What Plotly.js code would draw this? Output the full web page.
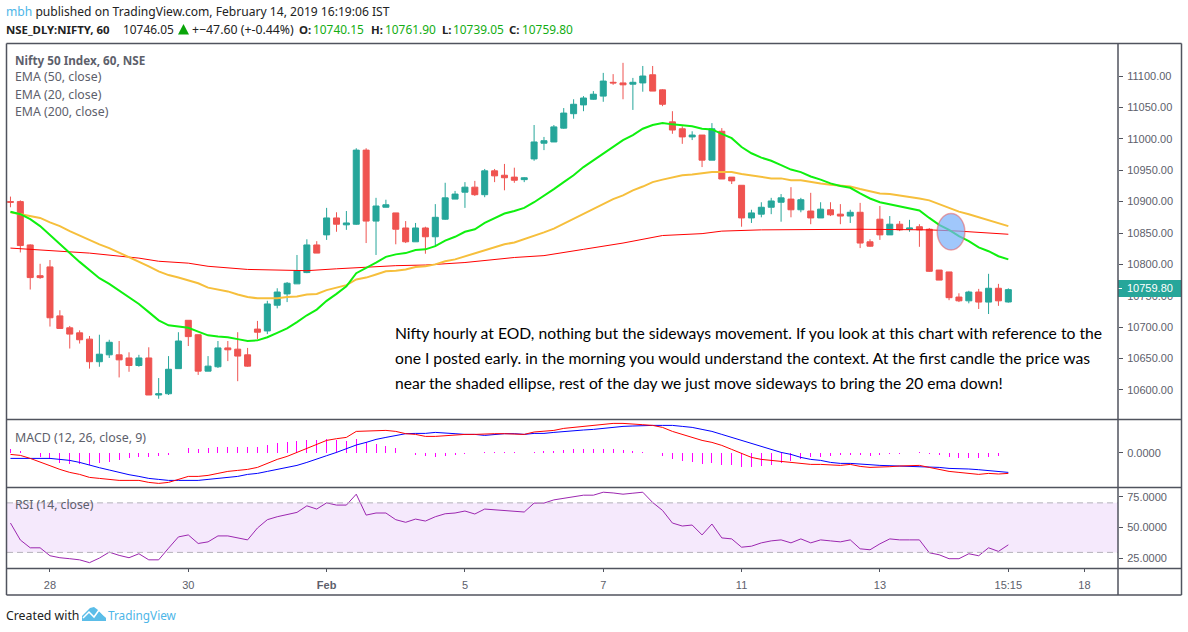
<!DOCTYPE html>
<html>
<head>
<meta charset="utf-8">
<script src="https://cdn.plot.ly/plotly-3.0.1.min.js"></script>
<style>html,body{margin:0;padding:0;background:#fff}</style>
</head>
<body>
<div id="chart" style="width:1188px;height:632px"></div>
<script>
// hourly candles
const candleOpen = [10900,10900,10831,10782,10796,10718,10699,10691,10681,10645,10656,10656,10651,10639,10651,10592,10594,10634,10711,10688,10630,10637,10667,10665,10656,10697,10694,10735,10753,10769,10787,10831,10847,10874,10863,10864,10982,10869,10891,10882,10858,10836,10858,10844,10872,10904,10915,10923,10911,10949,10942,10939,10935,10968,10993,10995,11017,11040,11054,11063,11068,11090,11089,11087,11089,11102,11078,11027,11016,11003,11006,10966,11012,10939,10926,10874,10880,10891,10899,10904,10887,10885,10874,10887,10880,10877,10883,10836,10872,10847,10864,10856,10860,10856,10791,10788,10748,10742,10756,10740,10762,10740.15];
const candleHigh = [10908,10902,10832,10801,10807,10727,10702,10695,10686,10688,10680,10678,10660,10656,10668,10619,10654,10692,10711,10688,10654,10678,10678,10692,10667,10710,10742,10762,10772,10815,10840,10837,10890,10883,10885,10985,10985,10906,10903,10882,10869,10866,10860,10896,10930,10917,10931,10933,10952,10952,10960,10954,10939,11022,11003,11022,11049,11063,11068,11076,11105,11103,11121,11097,11116,11116,11079,11044,11020,11012,11006,11025,11017,10939,10926,10887,10899,10906,10912,10923,10906,10914,10899,10899,10896,10887,10898,10840,10893,10877,10869,10871,10864,10858,10791,10788,10754,10758,10761,10785,10769,10761.9];
const candleLow = [10891,10819,10760,10777,10701,10698,10666,10674,10634,10637,10651,10620,10629,10637,10592,10586,10592,10634,10670,10624,10630,10635,10646,10614,10637,10681,10689,10730,10740,10769,10786,10818,10839,10852,10855,10863,10834,10815,10891,10832,10834,10836,10817,10829,10871,10904,10890,10909,10907,10931,10918,10930,10931,10965,10982,10995,11016,11032,11044,11062,11059,11086,11063,11046,11075,11076,11052,11008,10992,10998,10955,10966,10936,10928,10860,10866,10875,10880,10868,10875,10883,10864,10874,10877,10864,10866,10826,10828,10839,10847,10853,10852,10828,10788,10775,10743,10740,10738,10729,10721,10734,10739.05];
const candleClose = [10899,10830,10779,10779,10715,10698,10689,10680,10645,10657,10676,10648,10639,10651,10592,10594,10633,10678,10685,10630,10638,10667,10664,10654,10638,10692,10737,10756,10770,10790,10831,10818,10874,10864,10866,10982,10869,10893,10895,10856,10836,10858,10844,10875,10906,10912,10923,10911,10949,10941,10938,10934,10938,10995,10997,11019,11041,11055,11065,11071,11092,11089,11086,11090,11100,11076,11055,11014,11003,11006,10966,11016,10936,10933,10874,10882,10891,10901,10906,10887,10903,10874,10888,10879,10877,10883,10834,10829,10847,10864,10855,10858,10855,10789,10775,10747,10742,10756,10740,10762,10742,10759.8];

const ema20 = [10884,10880,10872,10861,10847,10832,10818,10804,10791,10778,10769,10758,10748,10737,10724,10711,10703,10701,10699,10693,10687,10685,10684,10681,10678,10679,10684,10691,10698,10708,10719,10728,10742,10753,10765,10786,10794,10803,10812,10816,10818,10823,10824,10829,10838,10844,10852,10856,10866,10874,10881,10885,10890,10899,10909,10920,10931,10942,10955,10966,10977,10988,10998,11006,11016,11022,11025,11023,11022,11020,11016,11015,11008,11001,10987,10977,10970,10965,10958,10951,10947,10940,10935,10929,10925,10922,10913,10905,10899,10896,10893,10890,10886,10874,10863,10855,10845,10837,10827,10821,10813,10808];
const ema50 = [10883,10880,10877,10874,10867,10861,10853,10846,10838,10832,10826,10819,10811,10805,10797,10789,10783,10779,10775,10770,10763,10760,10757,10752,10748,10746,10746,10746,10748,10749,10752,10753,10759,10763,10767,10776,10779,10784,10789,10790,10792,10796,10797,10800,10805,10808,10813,10818,10822,10827,10832,10835,10840,10845,10851,10857,10865,10872,10880,10888,10896,10904,10910,10918,10924,10931,10935,10939,10942,10943,10945,10947,10947,10947,10944,10942,10939,10937,10937,10934,10934,10931,10929,10927,10926,10924,10920,10916,10913,10912,10910,10908,10905,10902,10896,10891,10884,10880,10875,10870,10865,10861];
// the slow average barely bends, so only the bars where it was read
const ema200Bars = [0,4,8,13,15,18,20,24,26,30,33,36,39,42,46,51,54,58,62,66,70,72,76,86,93,96,101];
const ema200 = [10826,10822,10818,10810,10805,10802,10797,10792,10791,10790,10793,10796,10798,10799,10803,10811,10814,10824,10834,10846,10849,10853,10855,10856,10855,10853,10848];

const macdRed = [-1.7,-2.7,-5.7,-9,-13,-16.7,-19.7,-21.7,-24.7,-25.7,-26.7,-27.7,-27.7,-27.7,-29.7,-30.7,-29.7,-26.7,-23.7,-23.7,-22.7,-20.7,-18.7,-17.7,-16.7,-14.7,-10.7,-6.7,-3.7,0.3,5,8.3,12.3,14,15.3,21.3,21.7,22.3,22.3,21.3,19,18.3,16.3,16.3,17,17.7,18.3,18.3,19,19,19,19,18.3,20.7,21.3,22.3,24.3,25.3,26.3,27.3,28.3,29.3,29.3,28.3,28,27.3,25.3,21.3,18.3,15.3,12.3,10.3,7.3,3.3,-0.7,-4.7,-6.7,-7.7,-8.7,-9.7,-10.7,-11.7,-11.7,-12,-12.7,-11.7,-13.7,-14.7,-14.7,-14,-13.3,-12.7,-12.7,-14.7,-16.7,-18.7,-19.7,-20.7,-21.7,-20.7,-21.3,-20.7];
const macdBlue = [-5.7,-5.7,-5,-5,-5.7,-6.7,-7.7,-9.7,-12.7,-15,-17.3,-19.7,-22,-23.7,-25.7,-26.7,-27.7,-27.7,-27.7,-27.7,-26.7,-25.7,-24.7,-23.7,-21.7,-20.7,-18.7,-16.7,-14.7,-12.7,-9.7,-6.7,-3,0.3,3.7,7.7,10.3,13.3,15.3,17.3,19,19.3,19.3,20.3,19.3,19,18.3,18.3,17.3,18.3,19,19,18.3,19.3,19.3,20.3,21.3,22.3,22.7,23.3,24.3,25.7,26.3,26.7,27.3,27.3,27.3,27.3,26.3,25.3,23.3,21.3,18.3,15.3,12.3,9.3,6.3,3.3,0.3,-1.7,-4.7,-6.7,-7.7,-9.7,-10.7,-10.7,-11.7,-12,-12.7,-13,-13.7,-13.3,-13.7,-14,-14.7,-15.7,-15.7,-16.3,-17,-17.7,-18.7,-19.7];
const macdHist = [4,1.7,-0.3,-4.3,-6.7,-10,-11.3,-11.7,-12.3,-10.7,-9.7,-7,-5.7,-4,-4,-3.3,-2,-0.3,4.3,4,4.3,5.3,6,6,5.7,6,8,10,10.7,11.7,12.7,12.7,13.3,13,12,13.7,11,8.7,6.7,4.3,-0.3,-2,-3.3,-4,-3,-2.3,-1.3,0,0.7,0.7,0.7,0.7,0,1,1.7,1.7,2.7,3.7,4,4,4,4,2.7,1.7,0.7,-0.7,-3,-6.3,-8,-9,-11.3,-10.3,-12,-12,-14.3,-14,-13,-12,-10,-8,-6.3,-4.7,-4,-3,-2.3,-2.3,-2.7,-3,-2,-1.3,-1.3,0,0.5,-1.3,-2.3,-4,-5,-5,-5,-4,-3,-0.7];

const rsi = [53.7,40,33.7,33.7,27.3,25.7,24.9,24,21.7,25.4,30.2,27.6,25.7,28.9,24,24,33.4,42.5,44.1,37.2,38.5,43.3,43.3,41.7,40.1,49.7,56.4,58.8,60.4,62.3,67.6,65,70,68.2,68.2,77,60.1,61.8,61.8,56.4,54.3,56.9,55.3,58.8,61.2,61.8,63.4,61,65,64.4,63.6,62.8,62.6,69.8,69.8,72.4,73.8,75.4,76.2,76.2,78.6,78,77,77.8,78.6,70.3,63.9,53.7,51.3,52.1,44.1,52.9,41.7,40.9,34.2,35,37.7,39.3,40.1,37.7,40.9,37.7,40.1,39.3,38.5,40.1,32.9,32.1,36.9,40.9,40.1,40.1,40.1,29.7,28.1,24.9,24.9,28.9,27.3,33.7,30.8,36.1];

const priceTicks = [10600,10650,10700,10750,10800,10850,10900,10950,11000,11050,11100];
const timeTicks = [4,18,32,46,60,74,88,101,108.7];
const timeLabels = ["28","30","<b>Feb</b>","5","7","11","13","15:15","18"];
const bars = candleClose.map((c,i)=>i);

const annoLines = [
  "Nifty hourly at EOD, nothing but the sideways movement. If you look at this chart with reference to the",
  "one I posted early. in the morning you would understand the context. At the first candle the price was",
  "near the shaded ellipse, rest of the day we just move sideways to bring the 20 ema down!"
];

// plot area in page pixels, everything outside it goes through these two
const W = 1188, H = 632, L = 7, R = 1118, T = 44, B = 568;
const px = v => (v - L) / (R - L);
const py = v => (B - v) / (B - T);

const FRAME = "#50535e", GREY = "#5d606b", GREEN = "#13ad13";
const traces = [
  {
    type: "candlestick", x: bars,
    open: candleOpen, high: candleHigh, low: candleLow, close: candleClose,
    increasing: {line: {color: "#26a69a", width: 1}, fillcolor: "#26a69a"},
    decreasing: {line: {color: "#ef5350", width: 1}, fillcolor: "#ef5350"},
    whiskerwidth: 0, xaxis: "x", yaxis: "y", hoverinfo: "skip"
  },
  {type: "scatter", mode: "lines", x: ema200Bars, y: ema200, line: {color: "#ff0000", width: 1}, yaxis: "y"},
  {type: "scatter", mode: "lines", x: bars, y: ema50, line: {color: "#f6bf3c", width: 2}, yaxis: "y"},
  {type: "scatter", mode: "lines", x: bars, y: ema20, line: {color: "#0ff00f", width: 2}, yaxis: "y"},
  {type: "bar", x: bars, y: macdHist, width: 0.1012, marker: {color: "#ff00ff", line: {width: 0}}, yaxis: "y2"},
  {type: "scatter", mode: "lines", x: bars, y: macdBlue, line: {color: "#0000ff", width: 1}, yaxis: "y2"},
  {type: "scatter", mode: "lines", x: bars, y: macdRed, line: {color: "#ff0000", width: 1}, yaxis: "y2"},
  {type: "scatter", mode: "lines", x: bars, y: rsi, line: {color: "#9c27b0", width: 1}, yaxis: "y3"}
];

function note(x, y, text, size, color, font){
  return {
    xref: "paper", yref: "paper", x: px(x), y: py(y),
    text: text, showarrow: false, xanchor: "left", yanchor: "middle",
    font: {family: font || "Noto Sans", size: size, color: color}, borderpad: 0
  };
}

function frameLine(x0, y0, x1, y1){
  return {
    type: "line", xref: "paper", yref: "paper", layer: "above",
    x0: px(x0), y0: py(y0), x1: px(x1), y1: py(y1),
    line: {color: FRAME, width: 1.5}
  };
}

function pxPath(points){
  return points.map((p,i)=>(i ? "L" : "M") + px(p[0]) + "," + py(p[1])).join(" ");
}

const annotations = [
  note(5, 12, "<span style=\"color:#4db6e8\">mbh</span> published on TradingView.com, February 14, 2019 16:19:06 IST", 12.1, "#222"),
  note(5, 29, "<b>NSE_DLY:NIFTY, 60</b>", 11.4, "#222"),
  note(122, 29, "10746.05", 11.9, "#222"),
  note(191, 29, "+\u221247.60 (+-0.44%)", 12.3, "#222"),
  note(298, 29, "<b>O:</b>", 11.4, "#222"), note(312, 29, "10740.15", 11.9, GREEN),
  note(370, 29, "<b>H:</b>", 11.4, "#222"), note(384, 29, "10761.90", 11.9, GREEN),
  note(441, 29, "<b>L:</b>", 11.4, "#222"), note(452, 29, "10739.05", 11.9, GREEN),
  note(508, 29, "<b>C:</b>", 11.4, "#222"), note(521, 29, "10759.80", 11.9, GREEN),
  note(14, 60, "<b>Nifty 50 Index, 60, NSE</b>", 11.7, GREY),
  note(14, 77, "EMA (50, close)", 12.3, GREY),
  note(14, 94, "EMA (20, close)", 12.3, GREY),
  note(14, 111, "EMA (200, close)", 12.3, GREY),
  note(14, 437, "MACD (12, 26, close, 9)", 12.4, GREY),
  note(14, 504, "RSI (14, close)", 12.2, GREY),
  note(394, 333, annoLines[0], 15.7, "#000", "Lato"),
  note(394, 358, annoLines[1], 15.7, "#000", "Lato"),
  note(394, 383, annoLines[2], 15.6, "#000", "Lato"),
  note(1126, 288, "10759.80", 11, "#fff", "Liberation Sans"),
  note(5, 615, "Created with", 12.3, "#222"),
  note(107, 615, "TradingView", 11.8, "#4db6e8")
];

const shapes = [
  // RSI band and its two dashed limits
  {type: "rect", xref: "paper", yref: "y3", x0: 0, x1: 1, y0: 30, y1: 70, fillcolor: "#f5e9fc", line: {width: 0}, layer: "below"},
  {type: "line", xref: "paper", yref: "y3", x0: 0, x1: 1, y0: 70, y1: 70, line: {color: "#b5b2ba", width: 1, dash: "6px,4px"}},
  {type: "line", xref: "paper", yref: "y3", x0: 0, x1: 1, y0: 30, y1: 30, line: {color: "#b5b2ba", width: 1, dash: "6px,4px"}},
  // shaded ellipse
  {type: "circle", xref: "x", yref: "y", x0: 93.8, x1: 96.6, y0: 10823, y1: 10881, layer: "above",
   fillcolor: "rgba(120,175,250,0.7)", line: {color: "rgba(239,83,80,0.5)", width: 1.5}},
  // last price tag
  {type: "rect", xref: "paper", yref: "paper", x0: px(1118), x1: px(1181), y0: py(280), y1: py(297), fillcolor: "#26a69a", line: {width: 0}, layer: "above"},
  {type: "line", xref: "paper", yref: "paper", x0: px(1118), x1: px(1122), y0: py(288.5), y1: py(288.5), line: {color: "#fff", width: 1}, layer: "above"},
  // frame and pane dividers
  frameLine(6.5, 43.5, 1181.5, 43.5),
  frameLine(6.5, 595, 1181.5, 595),
  frameLine(6.5, 43.5, 6.5, 595),
  frameLine(1181.5, 43.5, 1181.5, 595),
  frameLine(1118, 43.5, 1118, 595),
  frameLine(6.5, 419.5, 1181.5, 419.5),
  frameLine(6.5, 487.5, 1181.5, 487.5),
  frameLine(6.5, 568.5, 1181.5, 568.5),
  // green up triangle in the header
  {type: "path", xref: "paper", yref: "paper", layer: "above", line: {width: 0}, fillcolor: "#0aa50a",
   path: pxPath([[178,34.5],[183.5,24],[189,34.5]]) + " Z"},
  // logo
  {type: "path", xref: "paper", yref: "paper", layer: "above", line: {width: 0}, fillcolor: "#5bbde8",
   path: pxPath([[82,621],[82,616],[90,608],[94,607],[98,610],[103,615],[106,618],[106,621]]) + " Z"},
  {type: "path", xref: "paper", yref: "paper", layer: "above", line: {color: "#fff", width: 1.5},
   path: pxPath([[83,618],[89,612],[94,617],[99,610],[105,616]])}
];

const axisFont = {family: "Liberation Sans", size: 11, color: GREY};

const layout = {
  width: W, height: H,
  margin: {l: L, r: W - R, t: T, b: H - B, pad: 0},
  paper_bgcolor: "#fff", plot_bgcolor: "#fff",
  showlegend: false, bargap: 0, barmode: "overlay",
  boxgap: 0.2, boxgroupgap: 0.24,
  xaxis: {
    range: [-0.35, 112.1], anchor: "y3", showgrid: false, zeroline: false, rangeslider: {visible: false},
    tickmode: "array", tickvals: timeTicks, ticktext: timeLabels,
    ticks: "outside", ticklen: 3, tickcolor: FRAME, tickfont: axisFont, ticklabelstandoff: 4
  },
  yaxis: {
    domain: [py(419.5), py(43.5)], range: [10553, 11151], side: "right", showgrid: false, zeroline: false,
    tickmode: "array", tickvals: priceTicks, tickformat: ".2f",
    ticks: "outside", ticklen: 4, tickcolor: FRAME, tickfont: axisFont, ticklabelstandoff: 2
  },
  yaxis2: {
    domain: [py(487.5), py(419.5)], range: [-34.8, 33.2], side: "right", showgrid: false, zeroline: false,
    tickmode: "array", tickvals: [0], tickformat: ".4f",
    ticks: "outside", ticklen: 4, tickcolor: FRAME, tickfont: axisFont, ticklabelstandoff: 2
  },
  yaxis3: {
    domain: [0, py(487.5)], range: [17.4, 82.4], side: "right", showgrid: false, zeroline: false,
    tickmode: "array", tickvals: [25,50,75], tickformat: ".4f",
    ticks: "outside", ticklen: 4, tickcolor: FRAME, tickfont: axisFont, ticklabelstandoff: 2
  },
  annotations: annotations,
  shapes: shapes
};

Plotly.newPlot("chart", traces, layout, {displayModeBar: false, staticPlot: true});
</script>
</body>
</html>
